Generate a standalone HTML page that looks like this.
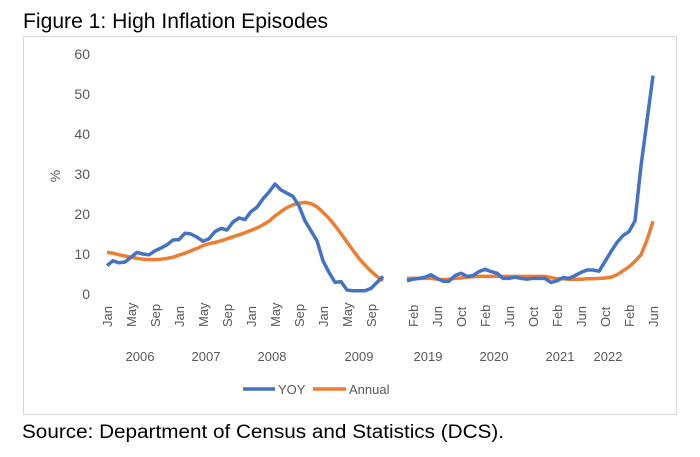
<!DOCTYPE html>
<html><head><meta charset="utf-8"><style>
body{margin:0;background:#fff;width:700px;height:452px;overflow:hidden;font-family:"Liberation Sans",sans-serif}
</style></head><body>
<svg width="700" height="452" xmlns="http://www.w3.org/2000/svg">
<text x="23" y="28" font-size="21" fill="#000" textLength="305" lengthAdjust="spacingAndGlyphs">Figure 1: High Inflation Episodes</text>
<rect x="23.5" y="36.5" width="653" height="378" fill="none" stroke="#d9d9d9"/>
<g id="yaxis"></g>
<text x="0" y="0" transform="translate(60,176) rotate(-90)" font-size="14" fill="#595959" text-anchor="middle">%</text>
<g id="xaxis"></g>
<g id="series"></g>
<g>
<line x1="243" y1="389" x2="275" y2="389" stroke="#4472C4" stroke-width="3.5"/>
<text x="278" y="394" font-size="13" fill="#595959">YOY</text>
<line x1="313" y1="389" x2="346" y2="389" stroke="#ED7D31" stroke-width="3.5"/>
<text x="349" y="394" font-size="13" fill="#595959">Annual</text>
</g>
<text x="22" y="438" font-size="19" fill="#000" textLength="482" lengthAdjust="spacingAndGlyphs">Source: Department of Census and Statistics (DCS).</text>
</svg>
<script>
const yTicks=[0,10,20,30,40,50,60];
const yoy1=[7.1,8.3,7.8,8,9.2,10.4,10,9.8,10.8,11.5,12.3,13.5,13.6,15.2,15,14.2,13.2,13.8,15.6,16.4,16,18,19,18.6,20.6,21.7,23.8,25.5,27.5,26,25.2,24.4,22,18.3,15.8,13.3,8.3,5.4,2.9,3.1,1,0.8,0.8,0.8,1.4,2.9,4.4];
const ann1=[10.4,10.2,9.8,9.5,9.2,8.9,8.7,8.6,8.6,8.7,8.9,9.2,9.7,10.2,10.8,11.4,12.1,12.6,12.9,13.3,13.8,14.3,14.8,15.3,15.9,16.5,17.3,18.2,19.5,20.6,21.6,22.3,22.7,22.9,22.6,21.8,20.4,18.9,17.1,15.1,13,10.9,8.9,7.2,5.7,4.4,3.3];
const yoy2=[3.3,3.7,3.9,4.2,4.8,3.9,3.2,3.2,4.6,5.2,4.4,4.6,5.6,6.2,5.6,5.2,3.9,3.9,4.2,3.9,3.7,3.9,3.9,3.9,2.9,3.3,4.1,3.9,4.6,5.4,6,6,5.7,8.1,10.6,12.9,14.6,15.6,18.3,32,43.3,54.6];
const ann2=[3.9,3.9,3.9,3.9,3.9,3.7,3.6,3.7,3.9,4,4.2,4.3,4.4,4.4,4.4,4.4,4.4,4.4,4.4,4.4,4.4,4.4,4.4,4.4,4.1,3.8,3.8,3.7,3.7,3.7,3.8,3.8,3.9,4,4.2,4.8,5.8,6.8,8.2,9.8,13.5,18.2];
const seg2Start=50;
const monthLabels1=["Jan","May","Sep","Jan","May","Sep","Jan","May","Sep","Jan","May","Sep"];
const monthLabels2=["Feb","Jun","Oct","Feb","Jun","Oct","Feb","Jun","Oct","Feb","Jun"];
const years=["2006","2007","2008","2009","2019","2020","2021","2022"];
const yearIdx=[5.5,16.5,27.5,42,53.5,64.5,75.5,83.5];
const NS="http://www.w3.org/2000/svg";
const xs=i=>107+6*i, ys=v=>294-4*v;
const ya=document.getElementById('yaxis');
yTicks.forEach(t=>{const e=document.createElementNS(NS,'text');e.setAttribute('x',90);e.setAttribute('y',ys(t)+5);e.setAttribute('text-anchor','end');e.setAttribute('font-size','14');e.setAttribute('fill','#595959');e.textContent=t;


ya.appendChild(e);});
const xa=document.getElementById('xaxis');
function ml(lbl,i){const e=document.createElementNS(NS,'text');e.setAttribute('transform',`translate(${xs(i)+5},327) rotate(-90)`);e.setAttribute('font-size','13');e.setAttribute('fill','#595959');e.textContent=lbl;


xa.appendChild(e);}
monthLabels1.forEach((l,k)=>ml(l,k*4));
monthLabels2.forEach((l,k)=>ml(l,seg2Start+1+k*4));
years.forEach((y,k)=>{const e=document.createElementNS(NS,'text');e.setAttribute('x',xs(yearIdx[k]));e.setAttribute('y',361);e.setAttribute('text-anchor','middle');e.setAttribute('font-size','13');e.setAttribute('fill','#595959');e.textContent=y;


xa.appendChild(e);});
const sg=document.getElementById('series');
function line(arr,off,col,name){const d=arr.map((v,i)=>(i?'L':'M')+xs(off+i).toFixed(1)+' '+ys(v).toFixed(1)).join(' ');const p=document.createElementNS(NS,'path');p.setAttribute('d',d);p.setAttribute('fill','none');p.setAttribute('stroke',col);p.setAttribute('stroke-width','3.5');p.setAttribute('stroke-linejoin','round');


sg.appendChild(p);}
line(ann1,0,'#ED7D31','annual-line-2006-2009');
line(ann2,seg2Start,'#ED7D31','annual-line-2019-2022');
line(yoy1,0,'#4472C4','yoy-line-2006-2009');
line(yoy2,seg2Start,'#4472C4','yoy-line-2019-2022');
</script>
</body></html>
